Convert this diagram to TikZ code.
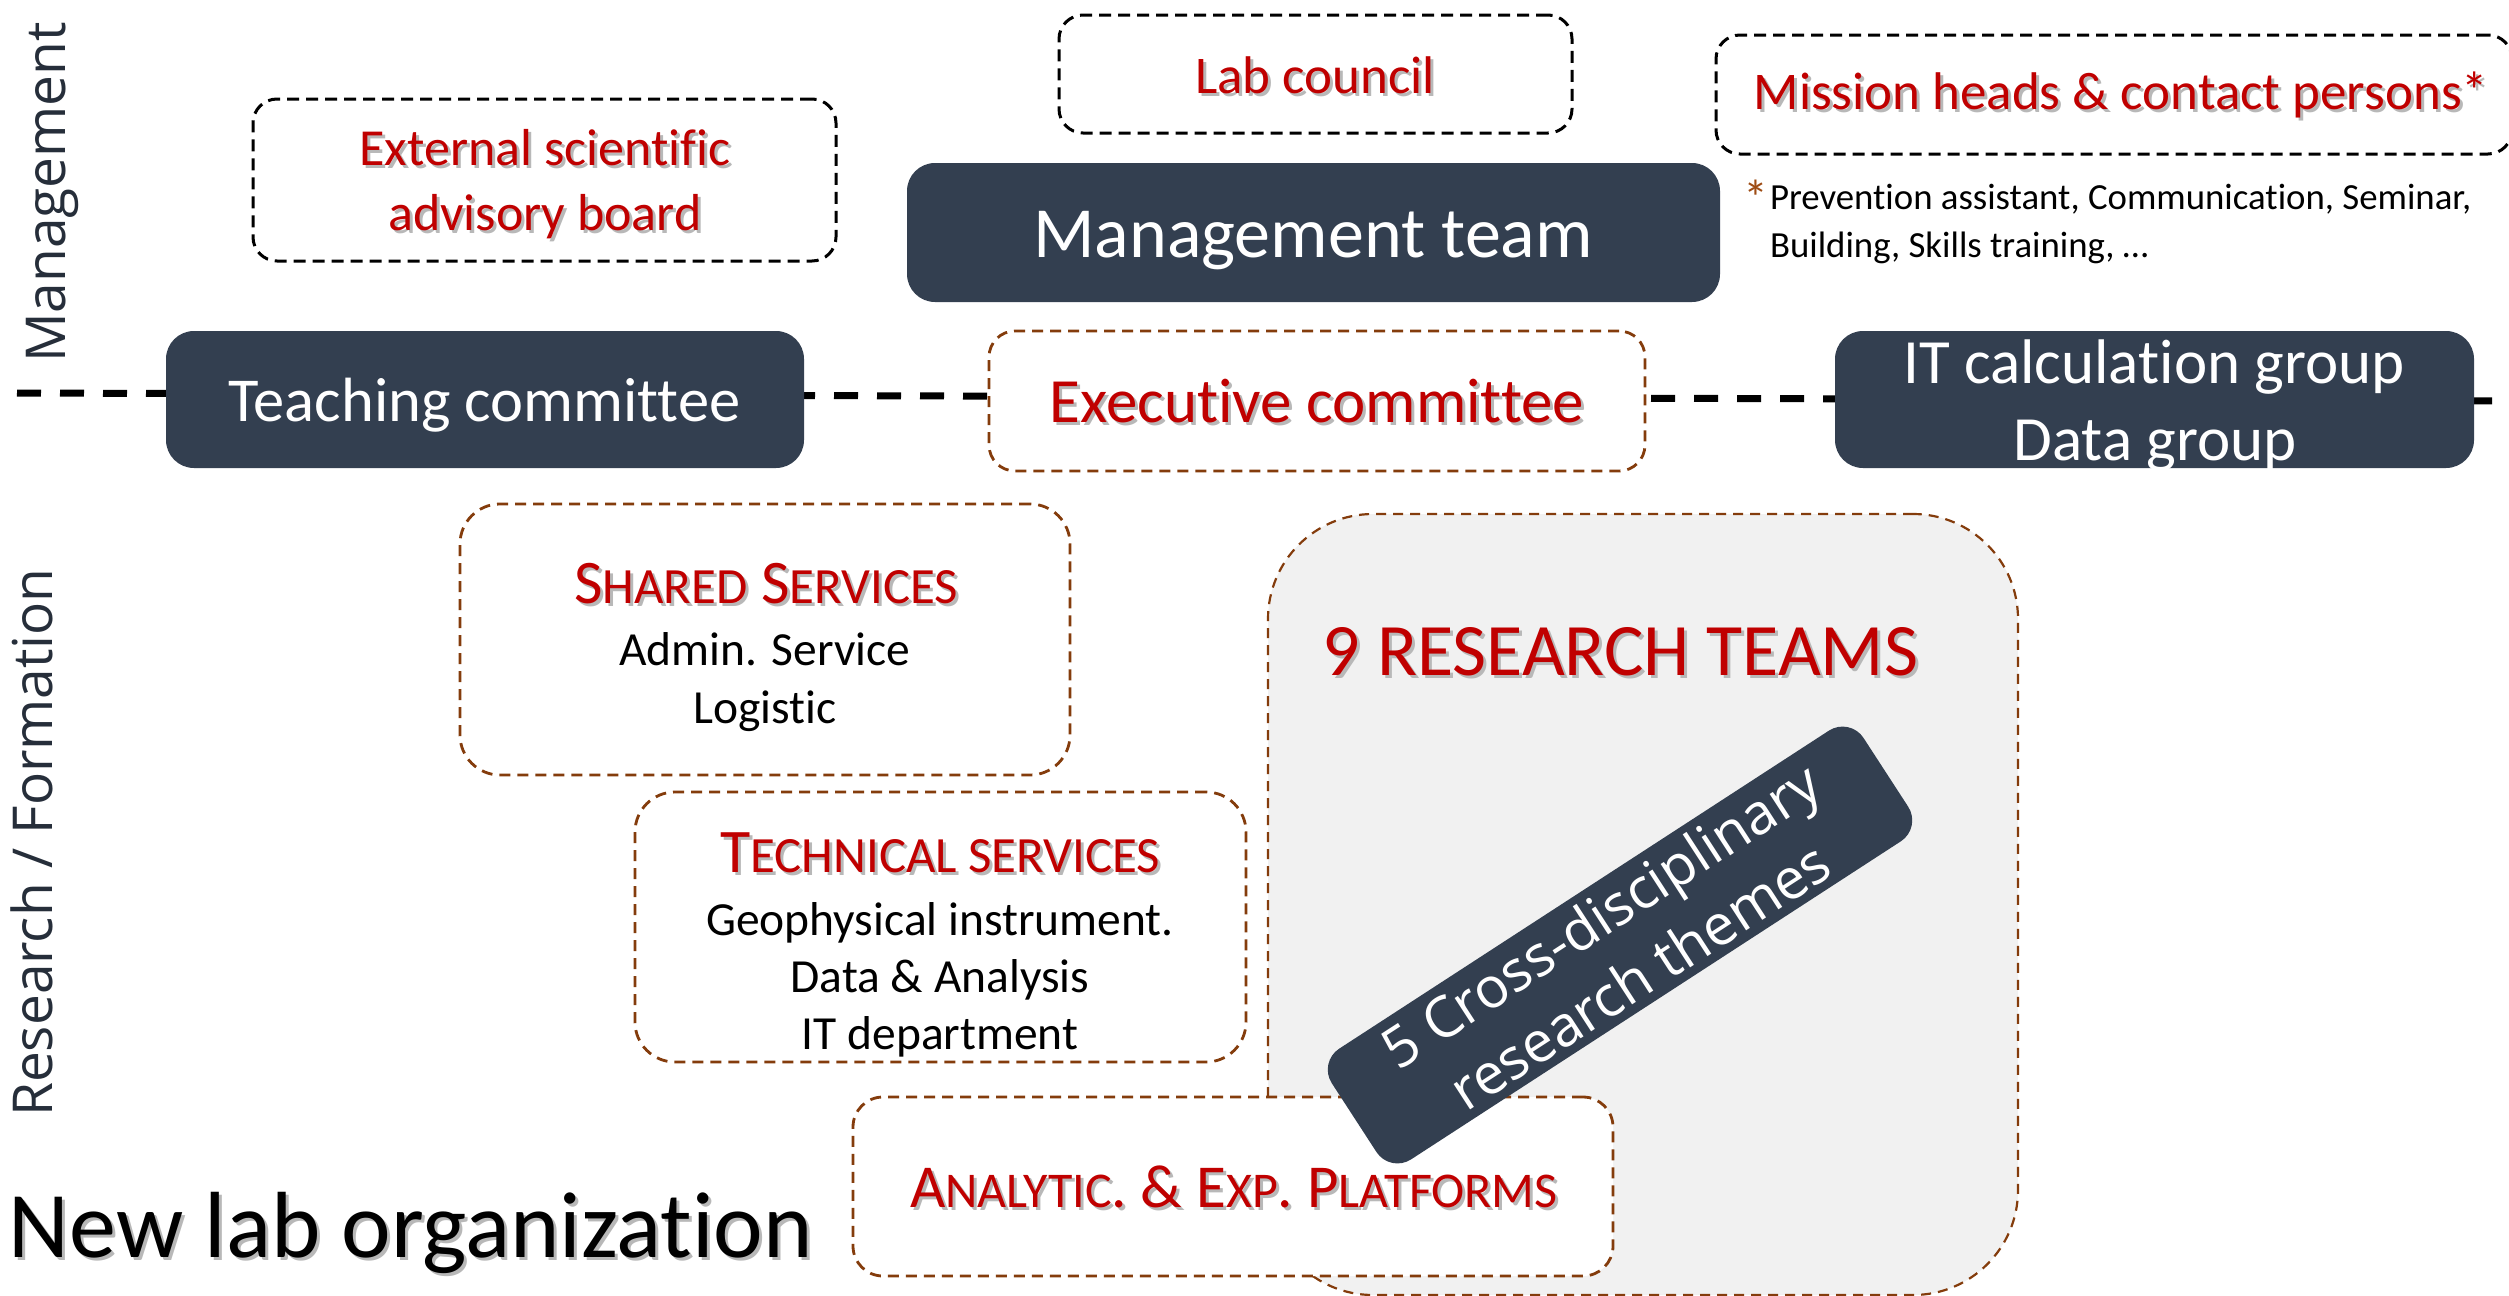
\documentclass[tikz,border=0pt]{standalone}
\usepackage{fontspec}
\setmainfont{Carlito}[Ligatures=NoCommon]
\newfontfamily\osans{Open Sans}
\definecolor{darkc}{RGB}{51,63,80}
\definecolor{redc}{RGB}{192,0,0}
\definecolor{brownc}{RGB}{132,60,12}
\definecolor{starc}{RGB}{158,76,20}
\definecolor{grayc}{RGB}{241,241,241}
\definecolor{labelc}{RGB}{38,46,58}
\colorlet{shadowc}{black!28}
\makeatletter
\newcommand\smc[1]{{\fontsize{\fpeval{0.82*\f@size}}{\f@baselineskip}\selectfont #1}}
\makeatother
\newcommand\fs[1]{\fontsize{#1}{#1}\selectfont}
\newcommand\shd[1]{\makebox[0pt][l]{\hspace{3pt}\raisebox{-3pt}{\textcolor{shadowc}{#1}}}#1}
\tikzset{
  hline/.style={line width=7pt, dash pattern=on 24pt off 19pt, black},
  darkbox/.style={fill=darkc, draw=none, rounded corners=28pt},
  bdash/.style={draw=black, fill=white, line width=3pt, dash pattern=on 12pt off 7pt, rounded corners=24pt},
  brdash/.style={draw=brownc, fill=white, line width=2.8pt, dash pattern=on 11pt off 7pt, rounded corners=#1},
  brdash/.default=28pt,
  graybox/.style={draw=brownc, fill=grayc, line width=2.2pt, dash pattern=on 10pt off 7pt, rounded corners=105pt},
  redt/.style={text=redc, anchor=base},
  wt/.style={text=white, anchor=base},
  bt/.style={text=black, anchor=base},
  sidelabel/.style={text=labelc, anchor=base, rotate=90, font=\osans\fs{55}},
}
\begin{document}
\begin{tikzpicture}[x=1pt,y=-1pt,every node/.style={inner sep=0pt,outer sep=0pt}]
\useasboundingbox (0,0) rectangle (2509,1296);
\fill[white] (0,0) rectangle (2509,1296);

% horizontal dashed separator
\coordinate (L) at (17,393);
\coordinate (R) at (2509,401);
\draw[hline] (L) -- (R);

% side labels
\node[sidelabel] (lblMgmt) at (65,192.5) {Management};
\node[sidelabel] (lblRes) at (52,842.5) {Research / Formation};

% management boxes
\node[bdash, minimum width=583pt, minimum height=162pt] (ext) at (544.5,180) {};
\node[redt, font=\fs{52}] (extA) at (545,165) {\shd{External scientific}};
\node[redt, font=\fs{52}] (extB) at (545,230) {\shd{advisory board}};

\node[bdash, minimum width=513pt, minimum height=118pt] (lab) at (1315.5,74) {};
\node[redt, font=\fs{53}] (labT) at (1315,93) {\shd{Lab council}};

\node[darkbox, minimum width=813pt, minimum height=139pt] (mgmt) at (1313.5,232.5) {};
\node[wt, font=\fs{72}] (mgmtT) at (1313,257) {Management team};

\node[bdash, minimum width=796pt, minimum height=119pt] (mission) at (2114,94.5) {};
\node[redt, font=\fs{53}] (missionT) at (2121,109) {\shd{Mission heads \& contact persons*}};

\node[text=starc, anchor=base, font=\fs{50}] (star) at (1756,215) {*};
\node[bt, anchor=base west, font=\fs{36.8}] (noteA) at (1770,209) {Prevention assistant, Communication, Seminar,};
\node[bt, anchor=base west, font=\fs{36.8}] (noteB) at (1770,257) {Building, Skills training, …};

% committees on the separator
\node[darkbox, minimum width=638pt, minimum height=137pt] (teach) at (485,399.5) {};
\node[wt, font=\fs{62.5}] (teachT) at (484.5,421) {Teaching committee};

\node[brdash=26pt, minimum width=656pt, minimum height=140pt] (exec) at (1317,401) {};
\node[redt, font=\fs{63}] (execT) at (1317,422) {\shd{Executive committee}};

\node[darkbox, minimum width=639pt, minimum height=137pt] (it) at (2154.5,399.5) {};
\node[wt, font=\fs{63}] (itA) at (2154,383) {IT calculation group};
\node[wt, font=\fs{63}] (itB) at (2155,460) {Data group};

% research part
\node[graybox, minimum width=750pt, minimum height=781pt] (gray) at (1643,904.5) {};
\node[redt, font=\fs{74}] (grayT) at (1620.5,675) {\shd{9 RESEARCH TEAMS}};

\node[brdash=40pt, minimum width=610pt, minimum height=271pt] (shared) at (765,639.5) {};
\node[redt, font=\fs{62}] (sharedT) at (766,603) {\shd{S\smc{HARED} S\smc{ERVICES}}};
\node[bt, font=\fs{47.5}] (sharedA) at (765,665) {Admin. Service};
\node[bt, font=\fs{47.5}] (sharedB) at (765,723) {Logistic};

\node[brdash=40pt, minimum width=611pt, minimum height=270pt] (tech) at (940.5,927) {};
\node[redt, font=\fs{62}] (techT) at (940,872) {\shd{T\smc{ECHNICAL SERVICES}}};
\node[bt, font=\fs{47.5}] (techA) at (940,935) {Geophysical instrument.};
\node[bt, font=\fs{47.5}] (techB) at (940,992) {Data \& Analysis};
\node[bt, font=\fs{47.5}] (techC) at (940,1049) {IT department};

\node[brdash=30pt, minimum width=760pt, minimum height=179pt] (anal) at (1233,1186.5) {};
\node[redt, font=\fs{61}] (analT) at (1234,1207) {\shd{A\smc{NALYTIC}. \& E\smc{XP}. P\smc{LATFORMS}}};

\node[darkbox, rounded corners=25pt, minimum width=634pt, minimum height=132pt, rotate=33,
      text=white, align=center, font=\osans\fontsize{56.5}{72}\selectfont] (theme) at (1620,945)
      {5 Cross-disciplinary\\research themes};

% title
\node[bt, anchor=base west, font=\fs{94}] (title) at (9,1257) {\shd{New lab organization}};
\end{tikzpicture}
\end{document}
